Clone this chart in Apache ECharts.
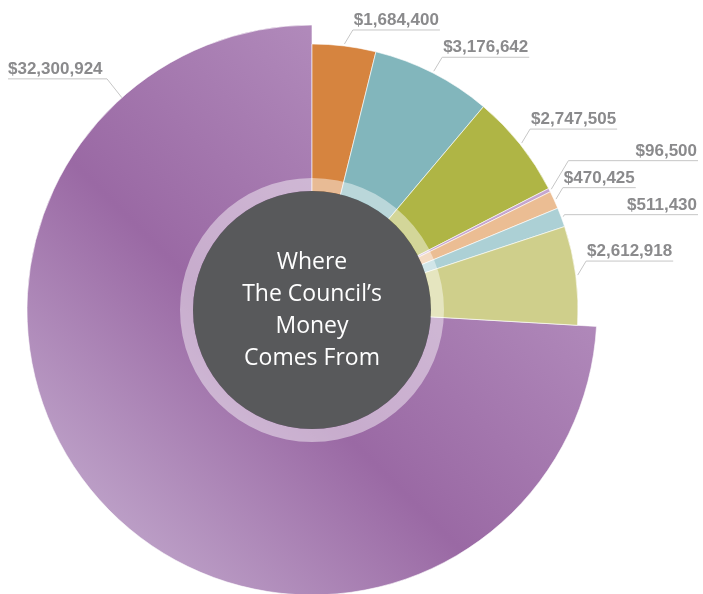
<!DOCTYPE html>
<html><head><meta charset="utf-8">
<script src="https://cdn.jsdelivr.net/npm/echarts@6/dist/echarts.min.js"></script>
<style>html,body{margin:0;padding:0;background:#fff}#c{width:703px;height:594px}</style>
</head><body><div id="c"></div>
<script>
// ---- data ----
const categories = ['Source 1','Source 2','Source 3','Source 4','Source 5','Source 6','Source 7','Source 8'];
const values = [1684400, 3176642, 2747505, 96500, 470425, 511430, 2612918, 32300924];
const centerLines = ['Where', 'The Council\u2019s', 'Money', 'Comes From'];

// ---- styling ----
const W = 703, H = 594, CX = 312, CY = 310;
const R_SMALL = 266, R_BIG = 285, R_CORE = 119, R_RING = 132;
const sliceColors = ['#d6843f','#82b6bc','#afb545','#c6a6cf','#ebbd93','#acd0d5','#cfcf8b',
  {type:'linear', x:0, y:1, x2:1, y2:0, colorStops:[
    {offset:0, color:'#cdbad8'},{offset:0.42, color:'#9a69a4'},{offset:1, color:'#c2a3cc'}]}];
const LABEL_SIZE = 17;
const LABEL_FONT = 'bold ' + LABEL_SIZE + 'px "Liberation Sans"';
const bigIndex = values.indexOf(Math.max.apply(null, values));

function money(v){ return '$' + v.toString().replace(/\B(?=(\d{3})+(?!\d))/g, ','); }

// ---- label geometry (computed from the values) ----
const total = values.reduce((a,b)=>a+b,0);
const cv = document.createElement('canvas').getContext('2d');
cv.font = LABEL_FONT;
let acc = 0;
const geo = values.map((v,i)=>{
  const start = acc/total*360; acc += v;
  const mid = start + v/total*180;
  const g = {mid, text: money(v)};
  g.tw = cv.measureText(g.text).width;
  return g;
});
const rightIdx = [];
geo.forEach((g,i)=>{
  const rad = (i === bigIndex ? -42 : g.mid) * Math.PI/180;
  const r = i === bigIndex ? 272 : R_SMALL + 2;
  g.p0x = CX + r*Math.sin(rad); g.p0y = CY - r*Math.cos(rad);
  if (i === bigIndex) {
    g.kx = g.p0x - 23; g.ky = g.p0y - 29; g.ex = 8;
    g.tx = 8; g.align = 'left';
  } else {
    g.ky0 = g.p0y - 14; g.ky = g.ky0; rightIdx.push(i);
  }
});
rightIdx.sort((a,b)=>geo[a].ky-geo[b].ky);
for (let it=0; it<200; it++) {
  for (let j=1; j<rightIdx.length; j++) {
    const a = geo[rightIdx[j-1]], b = geo[rightIdx[j]];
    const gap = b.ky - a.ky;
    if (gap < 27) { const d = (27-gap)/2; a.ky -= d; b.ky += d; }
  }
}
rightIdx.forEach(i=>{
  const g = geo[i];
  const dy = Math.max(g.p0y - g.ky, 2);
  g.kx = g.p0x + dy*0.6;
  g.ex = Math.abs(g.ky - g.ky0) > 8 ? W - 5 : g.kx + g.tw + 2;
  g.tx = g.ex - 1; g.align = 'right';
});

// ---- chart ----
const chart = echarts.init(document.getElementById('c'), null, {renderer:'canvas'});
const dataSmall = values.map((v,i)=>({
  name: categories[i], value: v,
  itemStyle: i === bigIndex ? {color:'rgba(0,0,0,0)', borderWidth:0} : {color: sliceColors[i]}
}));
const dataBig = values.map((v,i)=>({
  name: categories[i], value: v,
  itemStyle: i === bigIndex ? {color: sliceColors[i]} : {color:'rgba(0,0,0,0)', borderWidth:0}
}));
chart.setOption({
  animation: false,
  series: [
    { type:'pie', center:[CX,CY], radius:[0,R_BIG], startAngle:90, clockwise:true,
      silent:true, label:{show:false}, labelLine:{show:false}, data: dataBig,
      itemStyle:{borderColor:'#ffffff', borderWidth:0.6} },
    { type:'pie', center:[CX,CY], radius:[0,R_SMALL], startAngle:90, clockwise:true,
      silent:true, avoidLabelOverlap:false, data: dataSmall,
      itemStyle:{borderColor:'#ffffff', borderWidth:0.6},
      label:{show:true, position:'outside', formatter: p=>money(p.value),
        color:'#8a8a8c', fontFamily:'Liberation Sans', fontWeight:'bold', fontSize:LABEL_SIZE, lineHeight:17},
      labelLine:{show:true, length:10, length2:10, smooth:false, lineStyle:{color:'#c6c6c6', width:1}},
      labelLayout: function(p){
        const g = geo[p.dataIndex];
        return { x: g.tx, y: g.ky - 1, align: g.align, verticalAlign: 'bottom',
          labelLinePoints: [[g.p0x,g.p0y],[g.kx,g.ky],[g.ex,g.ky]] };
      } },
    { type:'pie', center:[CX,CY], radius:[R_CORE,R_RING], silent:true,
      label:{show:false}, labelLine:{show:false},
      data:[{value:1, itemStyle:{color:'rgba(255,255,255,0.45)'}}] },
    { type:'pie', center:[CX,CY], radius:[0,R_CORE], silent:true, labelLine:{show:false},
      label:{show:true, position:'center', formatter: centerLines.join('\n'),
        color:'#ffffff', fontFamily:'Open Sans', fontSize:23, lineHeight:32},
      data:[{value:1, itemStyle:{color:'#58595b'}}] }
  ]
});
</script></body></html>
